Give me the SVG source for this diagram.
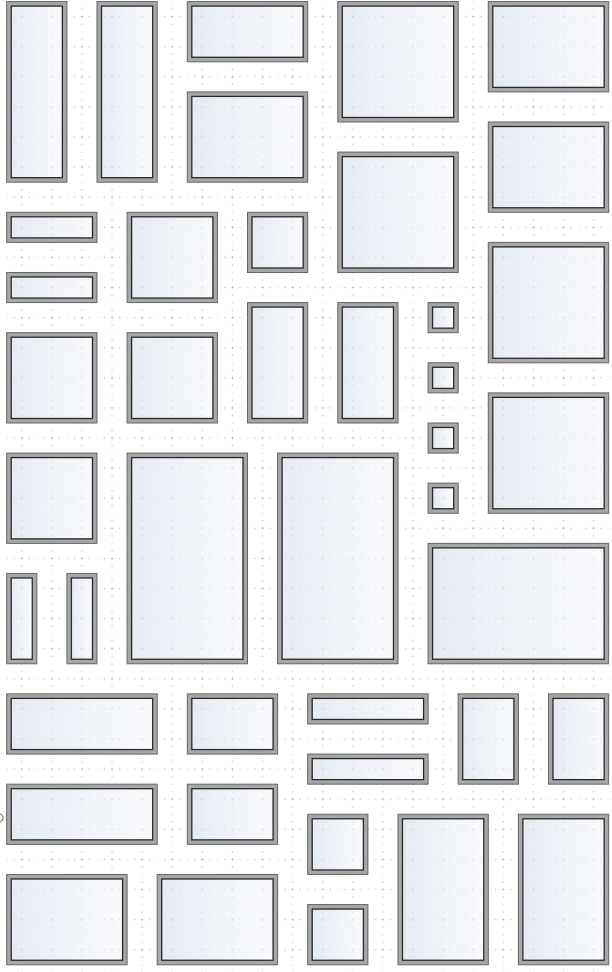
<svg xmlns="http://www.w3.org/2000/svg" width="612" height="972" viewBox="0 0 612 972">
<defs>
<pattern id="grid" patternUnits="userSpaceOnUse" x="0" y="0" width="30" height="30">
<g fill="#b4c9a8">
<rect x="14.35" y="-0.65" width="1.3" height="1.3"/>
<rect x="14.35" y="6.85" width="1.3" height="1.3"/>
<rect x="14.35" y="21.85" width="1.3" height="1.3"/>
<rect x="-0.65" y="14.35" width="1.3" height="1.3"/>
<rect x="6.85" y="14.35" width="1.3" height="1.3"/>
<rect x="21.85" y="14.35" width="1.3" height="1.3"/>
</g>
<rect x="14.2" y="14.2" width="1.6" height="1.6" fill="#8fae84"/>
</pattern>
<linearGradient id="glass" x1="0" y1="0" x2="1" y2="0">
<stop offset="0" stop-color="#d9e1ee"/>
<stop offset="1" stop-color="#f5f7fb"/>
</linearGradient>
<style>
.band{fill:none;stroke:#a7a7a7;stroke-width:4.5}
.outer{fill:none;stroke:#656565;stroke-width:1}
.glass{fill:url(#glass);fill-opacity:0.65;stroke:#2a2a2a;stroke-width:1.3}
</style>
</defs>
<rect x="0" y="0" width="612" height="972" fill="#ffffff"/>
<g transform="translate(6.7 1.6) scale(1.0033)">
<rect x="-30" y="-30" width="680" height="1010" fill="url(#grid)"/>
<g id="connectors"/>
<g id="A" transform="translate(0 0)"><rect class="band" x="2.25" y="2.25" width="55.5" height="175.5"/><rect class="outer" width="60" height="180"/><rect class="glass" x="4.5" y="4.5" width="51" height="171"/></g>
<g id="B" transform="translate(90 0)"><rect class="band" x="2.25" y="2.25" width="55.5" height="175.5"/><rect class="outer" width="60" height="180"/><rect class="glass" x="4.5" y="4.5" width="51" height="171"/></g>
<g id="C" transform="translate(180 0)"><rect class="band" x="2.25" y="2.25" width="115.5" height="55.5"/><rect class="outer" width="120" height="60"/><rect class="glass" x="4.5" y="4.5" width="111" height="51"/></g>
<g id="D" transform="translate(180 90)"><rect class="band" x="2.25" y="2.25" width="115.5" height="85.5"/><rect class="outer" width="120" height="90"/><rect class="glass" x="4.5" y="4.5" width="111" height="81"/></g>
<g id="E" transform="translate(330 0)"><rect class="band" x="2.25" y="2.25" width="115.5" height="115.5"/><rect class="outer" width="120" height="120"/><rect class="glass" x="4.5" y="4.5" width="111" height="111"/></g>
<g id="F" transform="translate(480 0)"><rect class="band" x="2.25" y="2.25" width="115.5" height="85.5"/><rect class="outer" width="120" height="90"/><rect class="glass" x="4.5" y="4.5" width="111" height="81"/></g>
<g id="G" transform="translate(480 120)"><rect class="band" x="2.25" y="2.25" width="115.5" height="85.5"/><rect class="outer" width="120" height="90"/><rect class="glass" x="4.5" y="4.5" width="111" height="81"/></g>
<g id="H" transform="translate(330 150)"><rect class="band" x="2.25" y="2.25" width="115.5" height="115.5"/><rect class="outer" width="120" height="120"/><rect class="glass" x="4.5" y="4.5" width="111" height="111"/></g>
<g id="I" transform="translate(0 210)"><rect class="band" x="2.25" y="2.25" width="85.5" height="25.5"/><rect class="outer" width="90" height="30"/><rect class="glass" x="4.5" y="4.5" width="81" height="21"/></g>
<g id="J" transform="translate(120 210)"><rect class="band" x="2.25" y="2.25" width="85.5" height="85.5"/><rect class="outer" width="90" height="90"/><rect class="glass" x="4.5" y="4.5" width="81" height="81"/></g>
<g id="K" transform="translate(240 210)"><rect class="band" x="2.25" y="2.25" width="55.5" height="55.5"/><rect class="outer" width="60" height="60"/><rect class="glass" x="4.5" y="4.5" width="51" height="51"/></g>
<g id="L" transform="translate(0 270)"><rect class="band" x="2.25" y="2.25" width="85.5" height="25.5"/><rect class="outer" width="90" height="30"/><rect class="glass" x="4.5" y="4.5" width="81" height="21"/></g>
<g id="M" transform="translate(480 240)"><rect class="band" x="2.25" y="2.25" width="115.5" height="115.5"/><rect class="outer" width="120" height="120"/><rect class="glass" x="4.5" y="4.5" width="111" height="111"/></g>
<g id="N" transform="translate(0 330)"><rect class="band" x="2.25" y="2.25" width="85.5" height="85.5"/><rect class="outer" width="90" height="90"/><rect class="glass" x="4.5" y="4.5" width="81" height="81"/></g>
<g id="O" transform="translate(120 330)"><rect class="band" x="2.25" y="2.25" width="85.5" height="85.5"/><rect class="outer" width="90" height="90"/><rect class="glass" x="4.5" y="4.5" width="81" height="81"/></g>
<g id="P" transform="translate(240 300)"><rect class="band" x="2.25" y="2.25" width="55.5" height="115.5"/><rect class="outer" width="60" height="120"/><rect class="glass" x="4.5" y="4.5" width="51" height="111"/></g>
<g id="Q" transform="translate(330 300)"><rect class="band" x="2.25" y="2.25" width="55.5" height="115.5"/><rect class="outer" width="60" height="120"/><rect class="glass" x="4.5" y="4.5" width="51" height="111"/></g>
<g id="R" transform="translate(420 300)"><rect class="band" x="2.25" y="2.25" width="25.5" height="25.5"/><rect class="outer" width="30" height="30"/><rect class="glass" x="4.5" y="4.5" width="21" height="21"/></g>
<g id="S" transform="translate(420 360)"><rect class="band" x="2.25" y="2.25" width="25.5" height="25.5"/><rect class="outer" width="30" height="30"/><rect class="glass" x="4.5" y="4.5" width="21" height="21"/></g>
<g id="T" transform="translate(420 420)"><rect class="band" x="2.25" y="2.25" width="25.5" height="25.5"/><rect class="outer" width="30" height="30"/><rect class="glass" x="4.5" y="4.5" width="21" height="21"/></g>
<g id="U" transform="translate(420 480)"><rect class="band" x="2.25" y="2.25" width="25.5" height="25.5"/><rect class="outer" width="30" height="30"/><rect class="glass" x="4.5" y="4.5" width="21" height="21"/></g>
<g id="V" transform="translate(480 390)"><rect class="band" x="2.25" y="2.25" width="115.5" height="115.5"/><rect class="outer" width="120" height="120"/><rect class="glass" x="4.5" y="4.5" width="111" height="111"/></g>
<g id="W" transform="translate(0 450)"><rect class="band" x="2.25" y="2.25" width="85.5" height="85.5"/><rect class="outer" width="90" height="90"/><rect class="glass" x="4.5" y="4.5" width="81" height="81"/></g>
<g id="X" transform="translate(120 450)"><rect class="band" x="2.25" y="2.25" width="115.5" height="205.5"/><rect class="outer" width="120" height="210"/><rect class="glass" x="4.5" y="4.5" width="111" height="201"/></g>
<g id="Y" transform="translate(270 450)"><rect class="band" x="2.25" y="2.25" width="115.5" height="205.5"/><rect class="outer" width="120" height="210"/><rect class="glass" x="4.5" y="4.5" width="111" height="201"/></g>
<g id="Z" transform="translate(420 540)"><rect class="band" x="2.25" y="2.25" width="175.5" height="115.5"/><rect class="outer" width="180" height="120"/><rect class="glass" x="4.5" y="4.5" width="171" height="111"/></g>
<g id="AA" transform="translate(0 570)"><rect class="band" x="2.25" y="2.25" width="25.5" height="85.5"/><rect class="outer" width="30" height="90"/><rect class="glass" x="4.5" y="4.5" width="21" height="81"/></g>
<g id="AB" transform="translate(60 570)"><rect class="band" x="2.25" y="2.25" width="25.5" height="85.5"/><rect class="outer" width="30" height="90"/><rect class="glass" x="4.5" y="4.5" width="21" height="81"/></g>
<g id="AC" transform="translate(0 690)"><rect class="band" x="2.25" y="2.25" width="145.5" height="55.5"/><rect class="outer" width="150" height="60"/><rect class="glass" x="4.5" y="4.5" width="141" height="51"/></g>
<g id="AD" transform="translate(180 690)"><rect class="band" x="2.25" y="2.25" width="85.5" height="55.5"/><rect class="outer" width="90" height="60"/><rect class="glass" x="4.5" y="4.5" width="81" height="51"/></g>
<g id="AE" transform="translate(300 690)"><rect class="band" x="2.25" y="2.25" width="115.5" height="25.5"/><rect class="outer" width="120" height="30"/><rect class="glass" x="4.5" y="4.5" width="111" height="21"/></g>
<g id="AF" transform="translate(450 690)"><rect class="band" x="2.25" y="2.25" width="55.5" height="85.5"/><rect class="outer" width="60" height="90"/><rect class="glass" x="4.5" y="4.5" width="51" height="81"/></g>
<g id="AG" transform="translate(540 690)"><rect class="band" x="2.25" y="2.25" width="55.5" height="85.5"/><rect class="outer" width="60" height="90"/><rect class="glass" x="4.5" y="4.5" width="51" height="81"/></g>
<g id="AH" transform="translate(300 750)"><rect class="band" x="2.25" y="2.25" width="115.5" height="25.5"/><rect class="outer" width="120" height="30"/><rect class="glass" x="4.5" y="4.5" width="111" height="21"/></g>
<g id="AI" transform="translate(0 780)"><rect class="band" x="2.25" y="2.25" width="145.5" height="55.5"/><rect class="outer" width="150" height="60"/><rect class="glass" x="4.5" y="4.5" width="141" height="51"/></g>
<g id="AJ" transform="translate(180 780)"><rect class="band" x="2.25" y="2.25" width="85.5" height="55.5"/><rect class="outer" width="90" height="60"/><rect class="glass" x="4.5" y="4.5" width="81" height="51"/></g>
<g id="AK" transform="translate(300 810)"><rect class="band" x="2.25" y="2.25" width="55.5" height="55.5"/><rect class="outer" width="60" height="60"/><rect class="glass" x="4.5" y="4.5" width="51" height="51"/></g>
<g id="AL" transform="translate(390 810)"><rect class="band" x="2.25" y="2.25" width="85.5" height="145.5"/><rect class="outer" width="90" height="150"/><rect class="glass" x="4.5" y="4.5" width="81" height="141"/></g>
<g id="AM" transform="translate(510 810)"><rect class="band" x="2.25" y="2.25" width="85.5" height="145.5"/><rect class="outer" width="90" height="150"/><rect class="glass" x="4.5" y="4.5" width="81" height="141"/></g>
<g id="AN" transform="translate(0 870)"><rect class="band" x="2.25" y="2.25" width="115.5" height="85.5"/><rect class="outer" width="120" height="90"/><rect class="glass" x="4.5" y="4.5" width="111" height="81"/></g>
<g id="AO" transform="translate(150 870)"><rect class="band" x="2.25" y="2.25" width="115.5" height="85.5"/><rect class="outer" width="120" height="90"/><rect class="glass" x="4.5" y="4.5" width="111" height="81"/></g>
<g id="AP" transform="translate(300 900)"><rect class="band" x="2.25" y="2.25" width="55.5" height="55.5"/><rect class="outer" width="60" height="60"/><rect class="glass" x="4.5" y="4.5" width="51" height="51"/></g>
</g>
<circle cx="-1" cy="818" r="4" fill="none" stroke="#8a8a8a" stroke-width="1.3"/>
</svg>
